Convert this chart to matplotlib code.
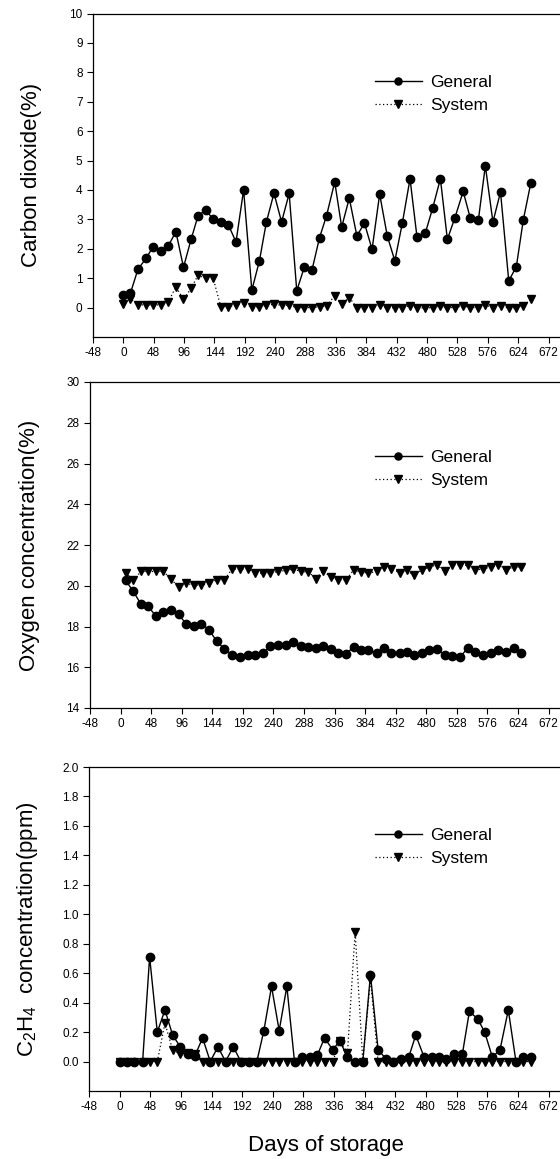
import matplotlib
matplotlib.use('Agg')
import matplotlib.pyplot as plt

plt.rcParams['font.family'] = ['Liberation Sans', 'DejaVu Sans']
plt.rcParams['mathtext.fontset'] = 'custom'
plt.rcParams['mathtext.rm'] = 'Liberation Sans'
plt.rcParams['axes.unicode_minus'] = False

# sampling days (CO2 and C2H4 panels share them)
days = [0, 11, 23, 36, 47, 59, 71, 83, 95, 107, 118, 130, 142, 154, 166,
        178, 190, 203, 215, 226, 238, 250, 262, 274, 286, 298, 310, 321,
        334, 345, 357, 369, 381, 393, 405, 417, 429, 441, 453, 464, 477,
        489, 501, 512, 524, 537, 548, 561, 572, 584, 596, 609, 621, 632, 644]

days_o2 = [8, 20, 32, 43, 56, 67, 79, 91, 103, 115, 127, 139, 151, 163, 175,
           187, 200, 211, 223, 235, 247, 259, 271, 283, 295, 307, 318, 330,
           342, 354, 366, 378, 389, 402, 414, 425, 438, 449, 461, 473, 485,
           497, 509, 521, 533, 545, 557, 569, 581, 593, 605, 617, 629]

co2_general = [0.43, 0.48, 1.30, 1.68, 2.07, 1.91, 2.10, 2.58, 1.37, 2.32,
               3.12, 3.32, 3.00, 2.91, 2.81, 2.23, 4.00, 0.59, 1.59, 2.91,
               3.89, 2.91, 3.88, 0.57, 1.38, 1.27, 2.38, 3.12, 4.27, 2.74,
               3.72, 2.44, 2.87, 1.98, 3.86, 2.44, 1.59, 2.89, 4.38, 2.40,
               2.52, 3.40, 4.38, 2.32, 3.06, 3.95, 3.06, 2.98, 4.82, 2.91,
               3.93, 0.91, 1.39, 2.98, 4.25]
co2_system = [0.11, 0.30, 0.09, 0.09, 0.09, 0.09, 0.19, 0.71, 0.28, 0.65,
              1.10, 0.99, 0.99, 0.03, 0.03, 0.08, 0.14, 0.02, 0.02, 0.08,
              0.11, 0.08, 0.08, 0.0, 0.0, 0.0, 0.03, 0.06, 0.40, 0.11,
              0.34, 0.0, 0.0, 0.0, 0.08, -0.02, 0.0, 0.0, 0.06, 0.0,
              -0.02, 0.0, 0.06, 0.0, 0.0, 0.06, 0.0, 0.0, 0.08, 0.0,
              0.06, -0.02, 0.0, 0.06, 0.28]

o2_general = [20.26, 19.72, 19.10, 18.99, 18.50, 18.71, 18.79, 18.61, 18.12,
              18.01, 18.14, 17.84, 17.27, 16.90, 16.62, 16.50, 16.58, 16.62,
              16.70, 17.03, 17.11, 17.11, 17.24, 17.06, 16.99, 16.94, 17.03,
              16.90, 16.70, 16.67, 16.99, 16.86, 16.83, 16.70, 16.94, 16.70,
              16.70, 16.73, 16.58, 16.70, 16.83, 16.90, 16.62, 16.57, 16.49,
              16.94, 16.73, 16.58, 16.70, 16.83, 16.75, 16.94, 16.70]
o2_system = [20.65, 20.26, 20.70, 20.70, 20.70, 20.70, 20.34, 19.93, 20.13,
             20.02, 20.02, 20.13, 20.29, 20.29, 20.82, 20.82, 20.82, 20.62,
             20.62, 20.62, 20.70, 20.75, 20.82, 20.70, 20.67, 20.34, 20.74,
             20.42, 20.26, 20.29, 20.78, 20.67, 20.62, 20.70, 20.92, 20.82,
             20.65, 20.75, 20.51, 20.78, 20.92, 21.03, 20.70, 21.03, 21.00,
             21.00, 20.78, 20.82, 20.92, 21.03, 20.78, 20.92, 20.92]

c2h4_general = [0.0, 0.0, 0.0, 0.0, 0.71, 0.20, 0.35, 0.18, 0.10, 0.05,
                0.04, 0.16, 0.0, 0.10, 0.0, 0.10, 0.0, 0.0, 0.0, 0.21,
                0.51, 0.21, 0.51, 0.0, 0.03, 0.03, 0.045, 0.16, 0.08, 0.14,
                0.03, 0.0, 0.0, 0.59, 0.08, 0.02, 0.0, 0.02, 0.03, 0.18,
                0.03, 0.03, 0.03, 0.02, 0.05, 0.05, 0.34, 0.29, 0.20, 0.03,
                0.08, 0.35, 0.0, 0.03, 0.03]
c2h4_system = [0.0, 0.0, 0.0, 0.0, 0.0, 0.0, 0.26, 0.08, 0.05, 0.06,
               0.05, 0.0, 0.0, 0.0, 0.0, 0.0, 0.0, 0.0, 0.0, 0.0,
               0.0, 0.0, 0.0, 0.0, 0.0, 0.0, 0.0, 0.0, 0.0, 0.14,
               0.06, 0.88, 0.0, 0.56, 0.0, 0.0, 0.0, 0.0, 0.0, 0.0,
               0.0, 0.0, 0.0, 0.0, 0.0, 0.0, 0.0, 0.0, 0.0, 0.0,
               0.0, 0.0, 0.0, 0.0, 0.0]

xticks = list(range(-48, 673, 48))

W, H = 560, 1159
fig = plt.figure(figsize=(W / 100, H / 100), dpi=100)


def add_panel(left, top, bottom):
    return fig.add_axes([left / W, 1 - bottom / H, (W - left) / W, (bottom - top) / H])


def draw(ax, xg, yg, xs, ys, ylim, yticks, fmt, ylabel, label_x, leg_y):
    ax.plot(xg, yg, color='black', lw=1.0, marker='o', ms=6, label='General')
    ax.plot(xs, ys, color='black', lw=0.9, ls=(0, (1, 2)), marker='v', ms=6,
            label='System')
    ax.set_xlim(-48, 690)
    ax.set_ylim(*ylim)
    ax.set_xticks(xticks)
    ax.set_yticks(yticks)
    ax.set_yticklabels([fmt.format(v) for v in yticks])
    ax.spines['right'].set_visible(False)
    for s in ax.spines.values():
        s.set_linewidth(0.9)
    ax.tick_params(direction='out', length=4, width=0.8, pad=3.5, labelsize=8.5)
    pos = ax.get_position()
    fig.text(label_x / W, pos.y0 + pos.height / 2, ylabel, rotation=90,
             ha='center', va='center', fontsize=16)
    ax.legend(frameon=False, loc='upper left', bbox_to_anchor=(366 / W, 1 - leg_y / H),
              bbox_transform=fig.transFigure, fontsize=12.5, handlelength=2.7,
              handletextpad=0.5, borderpad=0, labelspacing=0.45, numpoints=1,
              markerscale=0.85)


ax1 = add_panel(93, 13.5, 337)
draw(ax1, days, co2_general, days, co2_system, (-1, 10), list(range(0, 11)),
     '{:d}', 'Carbon dioxide(%)', 32, 66)

ax2 = add_panel(90, 382, 708)
draw(ax2, days_o2, o2_general, days_o2, o2_system, (14, 30), list(range(14, 31, 2)),
     '{:d}', 'Oxygen concentration(%)', 29, 441)

ax3 = add_panel(89, 767, 1091)
c_ticks = [i / 10 for i in range(0, 21, 2)]
draw(ax3, days, c2h4_general, days, c2h4_system, (-0.2, 2.0), c_ticks,
     '{:.1f}', r'C$_\mathregular{2}$H$_\mathregular{4}$  concentration(ppm)', 28, 819)

fig.text(326 / W, 1 - 1145 / H, 'Days of storage', ha='center', va='center', fontsize=16)

fig.savefig('out.png', dpi=100)
